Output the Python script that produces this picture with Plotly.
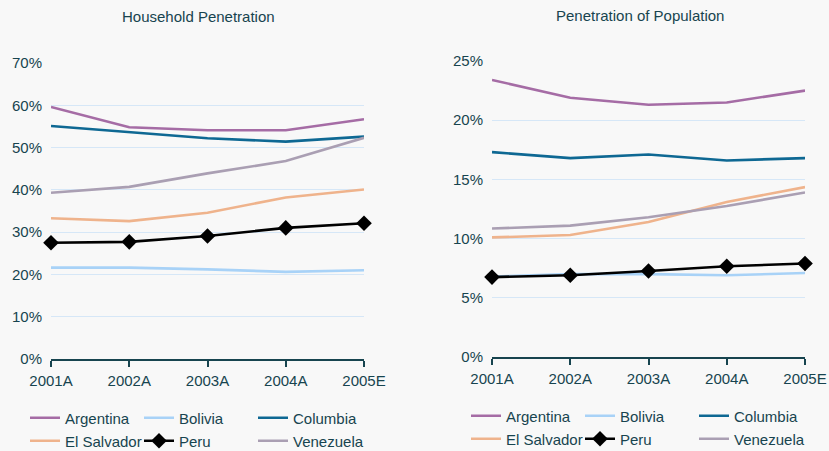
import plotly.graph_objects as go

years = ["2001A", "2002A", "2003A", "2004A", "2005E"]
countries = ["Argentina", "Bolivia", "Columbia", "El Salvador", "Peru", "Venezuela"]
colors = ["#a56ca5", "#a8d2f7", "#0e6893", "#efb38c", "#000000", "#aa9fb3"]

# Household penetration (%)
hh_argentina = [59.6, 54.8, 54.1, 54.1, 56.7]
hh_bolivia = [21.6, 21.6, 21.2, 20.6, 21.0]
hh_columbia = [55.1, 53.7, 52.2, 51.4, 52.6]
hh_el_salvador = [33.3, 32.6, 34.6, 38.2, 40.1]
hh_peru = [27.5, 27.7, 29.1, 31.0, 32.1]
hh_venezuela = [39.3, 40.7, 43.9, 46.8, 52.3]

# Penetration of population (%)
pop_argentina = [23.4, 21.9, 21.3, 21.5, 22.5]
pop_bolivia = [6.8, 7.0, 7.0, 6.9, 7.1]
pop_columbia = [17.3, 16.8, 17.1, 16.6, 16.8]
pop_el_salvador = [10.1, 10.3, 11.4, 13.1, 14.35]
pop_peru = [6.75, 6.9, 7.26, 7.66, 7.9]
pop_venezuela = [10.85, 11.1, 11.8, 12.75, 13.9]

hh_series = [hh_argentina, hh_bolivia, hh_columbia, hh_el_salvador, hh_peru, hh_venezuela]
pop_series = [pop_argentina, pop_bolivia, pop_columbia, pop_el_salvador, pop_peru, pop_venezuela]

INK = "#17444f"
GRID = "#d6e7f7"
FONT = "Liberation Sans, Arial, sans-serif"
FS = 15
W, H = 829, 451
MB = 90  # bottom margin holds the legends
PH = H - MB
xs = list(range(len(years)))


def py(pix):
    # pixel row -> paper fraction (plot area spans the top PH pixels)
    return (PH - pix) / PH


fig = go.Figure()

for panel, (series, xa, ya) in enumerate([(hh_series, "x", "y"), (pop_series, "x2", "y2")]):
    for i, (name, vals, col) in enumerate(zip(countries, series, colors)):
        is_peru = name == "Peru"
        legend_id = 1 + panel * 2 + (i // 3)
        fig.add_trace(go.Scatter(
            x=xs, y=[v / 100 for v in vals],
            xaxis=xa, yaxis=ya,
            name=name,
            mode="lines+markers" if is_peru else "lines",
            line=dict(color=col, width=2.6),
            marker=dict(symbol="diamond", size=12, color="#000000"),
            cliponaxis=False,
            legend="legend" if legend_id == 1 else f"legend{legend_id}",
        ))

common_x = dict(
    range=[0, len(years) - 1], tickvals=xs, ticktext=years,
    showgrid=False, zeroline=False, automargin=False,
    showline=True, linecolor=INK, linewidth=2,
    ticks="outside", ticklen=6, tickwidth=1.5, tickcolor=INK,
    tickfont=dict(family=FONT, size=FS, color=INK),
    ticklabelstandoff=1,
)
tick_over = dict(
    range=[0, len(years) - 1], tickvals=xs, showticklabels=False,
    showgrid=False, zeroline=False, showline=False, automargin=False,
    ticks="inside", ticklen=6, tickwidth=1.5, tickcolor=INK,
)
common_y = dict(
    tickformat=".0%", showgrid=True, gridcolor=GRID, gridwidth=1,
    zeroline=False, showline=False, ticks="", automargin=False,
    tickfont=dict(family=FONT, size=FS, color=INK),
    ticklabelstandoff=8,
)

legend_base = dict(
    orientation="h", xref="container", yref="container",
    yanchor="middle", xanchor="left",
    entrywidth=69, entrywidthmode="pixels",
    bgcolor="rgba(0,0,0,0)", itemclick=False,
    font=dict(family=FONT, size=FS, color=INK),
    tracegroupgap=0,
)

fig.update_layout(
    width=W, height=H,
    margin=dict(l=0, r=0, t=0, b=MB),
    paper_bgcolor="#f8f8f8", plot_bgcolor="#f8f8f8",
    font=dict(family=FONT, color=INK),
    xaxis=dict(domain=[51 / W, 364 / W], anchor="y", **common_x),
    yaxis=dict(domain=[py(359), py(63)], anchor="x", range=[0, 0.7], dtick=0.1, **common_y),
    xaxis2=dict(domain=[492 / W, 805 / W], anchor="y2", **common_x),
    yaxis2=dict(domain=[py(357), py(61)], anchor="x2", range=[0, 0.25], dtick=0.05, **common_y),
    xaxis3=dict(overlaying="x", anchor="y", **tick_over),
    xaxis4=dict(overlaying="x2", anchor="y2", **tick_over),
    legend=dict(x=25 / W, y=1 - 418 / H, **legend_base),
    legend2=dict(x=25 / W, y=1 - 441 / H, **legend_base),
    legend3=dict(x=466 / W, y=1 - 416 / H, **legend_base),
    legend4=dict(x=466 / W, y=1 - 439 / H, **legend_base),
    annotations=[
        dict(text="Household Penetration", x=198 / W, y=py(17),
             xref="paper", yref="paper", showarrow=False,
             xanchor="center", yanchor="middle",
             font=dict(family=FONT, size=FS, color=INK)),
        dict(text="Penetration of Population", x=640 / W, y=py(15),
             xref="paper", yref="paper", showarrow=False,
             xanchor="center", yanchor="middle",
             font=dict(family=FONT, size=FS, color=INK)),
    ],
    showlegend=True,
)

fig.write_html("out.html", config={"displayModeBar": False},
               post_script="document.body.style.margin='0';")
